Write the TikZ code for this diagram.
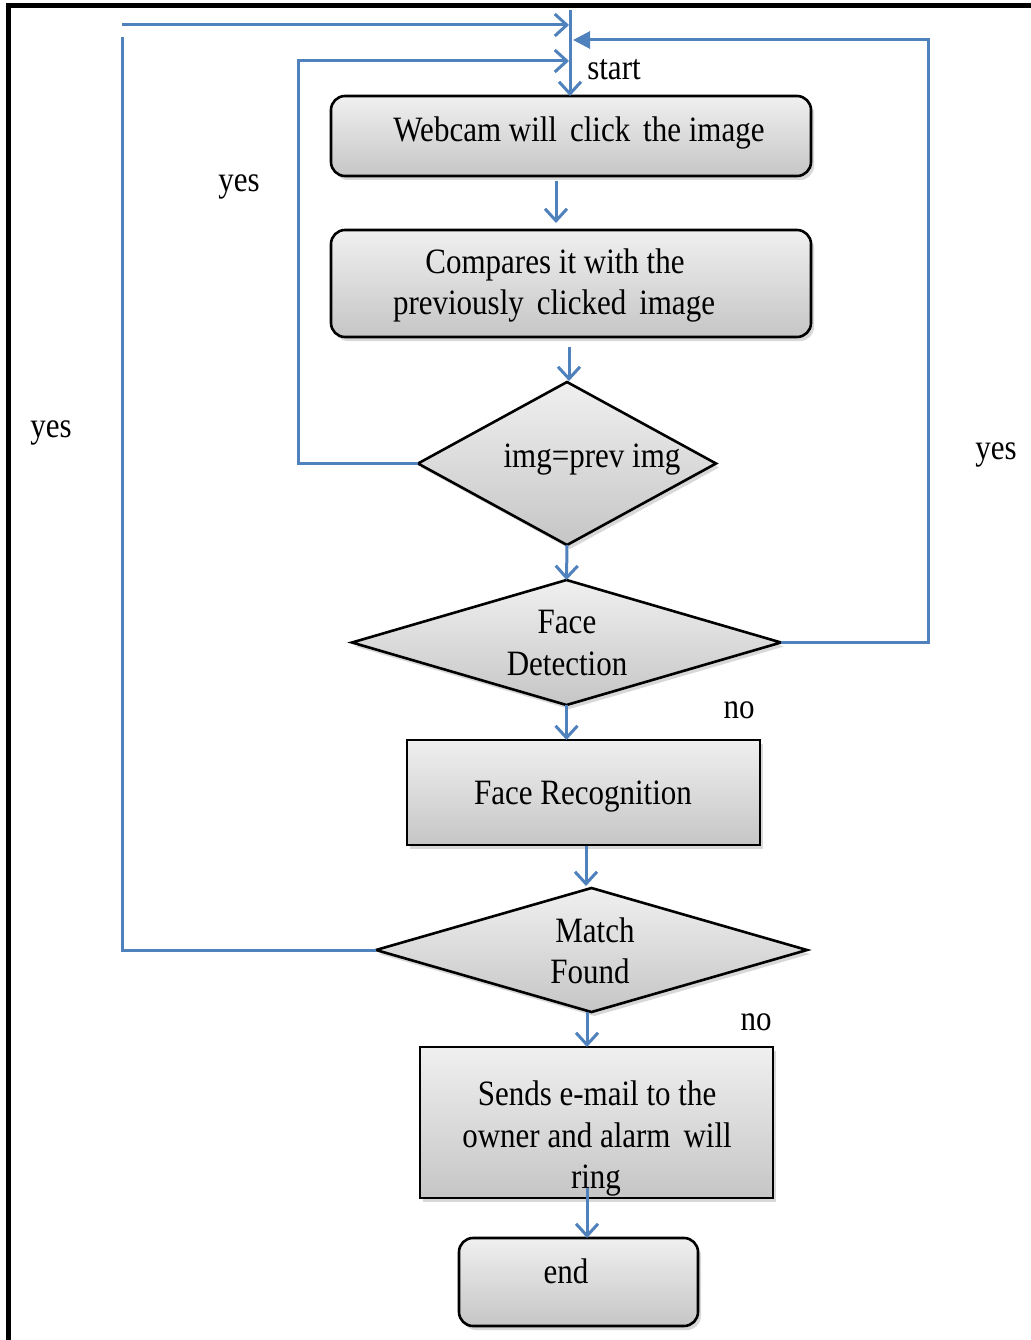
\documentclass[tikz,border=0pt]{standalone}
\usepackage{graphicx}
\usepackage{fontspec}
\setmainfont{Liberation Serif}
\usetikzlibrary{arrows.meta,shapes.geometric,shadows,calc}
\definecolor{flowblue}{HTML}{4F81BD}
\newcommand\vst[1]{\scalebox{1}[1.15]{#1}}
\begin{document}
\begin{tikzpicture}[x=1pt,y=-1pt,
  every node/.style={font=\fontsize{31}{36}\selectfont},
  txt/.style={anchor=base,inner sep=0pt},
  boxbase/.style={draw=black,line width=2.6pt,top color=gray!12,bottom color=gray!45,
    drop shadow={shadow xshift=3pt,shadow yshift=-4pt,opacity=0.3},inner sep=0pt,outer sep=0pt},
  rbox/.style={boxbase,rectangle,rounded corners=14pt},
  sbox/.style={boxbase,rectangle},
  dbox/.style={boxbase,diamond},
  flow/.style={draw=flowblue,line width=3pt,-{Straight Barb[length=12pt,width=22pt]}},
  plain/.style={draw=flowblue,line width=3pt},
  tri/.style={draw=flowblue,line width=3pt,-{Triangle[length=17pt,width=17pt]}}]
\useasboundingbox (0,0) rectangle (1030,1340);
\fill[white] (0,0) rectangle (1030,1340);
% frame
\draw[line width=5pt] (8,1342) -- (8,6) -- (1032,6);

% nodes
\node[rbox,minimum width=480pt,minimum height=80pt] (web) at (571,136) {};
\node[rbox,minimum width=480pt,minimum height=107pt] (comp) at (571,283.5) {};
\node[dbox,minimum width=298pt,minimum height=163pt] (img) at (567,463.5) {};
\node[dbox,minimum width=429pt,minimum height=125pt] (fd) at (566.5,642.5) {};
\node[sbox,minimum width=353pt,minimum height=105pt] (fr) at (583.5,792.5) {};
\node[dbox,minimum width=431pt,minimum height=124pt] (mf) at (591.5,950) {};
\node[sbox,minimum width=353pt,minimum height=151pt] (se) at (596.5,1122.5) {};
\node[rbox,minimum width=239pt,minimum height=88pt] (end) at (578.5,1282) {};

% texts
\node[txt] (t1) at (579,142) {\vst{Webcam will\, click\, the image}};
\node[txt] (t2a) at (555,273) {\vst{Compares it with the}};
\node[txt] (t2b) at (554,314) {\vst{previously\, clicked\, image}};
\node[txt] (t3) at (592,467) {\vst{img=prev img}};
\node[txt] (t4a) at (567,633) {\vst{Face}};
\node[txt] (t4b) at (567,675) {\vst{Detection}};
\node[txt] (t5) at (583,804) {\vst{Face Recognition}};
\node[txt] (t6a) at (595,942) {\vst{Match}};
\node[txt] (t6b) at (590,983) {\vst{Found}};
\node[txt] (t7a) at (597,1105) {\vst{Sends e-mail to the}};
\node[txt] (t7b) at (597,1147) {\vst{owner and alarm\, will}};
\node[txt] (t7c) at (596,1188) {\vst{ring}};
\node[txt] (t8) at (566,1283) {\vst{end}};
\node[txt] (lstart) at (614,80) {\vst{start}};
\node[txt] (lno1) at (739,718) {\vst{no}};
\node[txt] (lno2) at (756,1030) {\vst{no}};
\node[txt] (ly1) at (239,192) {\vst{yes}};
\node[txt] (ly2) at (51,437) {\vst{yes}};
\node[txt] (ly3) at (996,459) {\vst{yes}};

% coordinates
\coordinate (topc) at (570,10);
\coordinate (in1) at (569,25);
\coordinate (in2) at (569,61);
\coordinate (in3) at (573,40);
\coordinate (l1s) at (122,25);
\coordinate (l1e) at (122,37);
\coordinate (l2c) at (298,61);
\coordinate (rc) at (928,40);
\coordinate (a1s) at (556,181);
\coordinate (a1e) at (556,223);
\coordinate (a2s) at (569,347);
\coordinate (a2e) at (569,381);
\coordinate (a3s) at (586,846);
\coordinate (a3e) at (586,886);
\coordinate (a4s) at (587,1012);
\coordinate (a5s) at (587,1188);

% connectors
\draw[flow] (topc) -- (topc |- web.north);
\draw[flow] (a1s) -- (a1e);
\draw[flow] (a2s) -- (a2e);
\draw[flow] (img.south) -- (fd.north);
\draw[flow] (fd.south) -- (fd.south |- fr.north);
\draw[flow] (a3s) -- (a3e);
\draw[flow] (a4s) -- (a4s |- se.north);
\draw[flow] (a5s) -- (a5s |- end.north);

\draw[flow] (img.west) -| (l2c) -- (in2);
\draw[plain] (mf.west) -| (l1e);
\draw[flow] (l1s) -- (in1);
\draw[tri] (fd.east) -| (rc) -- (in3);
\end{tikzpicture}
\end{document}
